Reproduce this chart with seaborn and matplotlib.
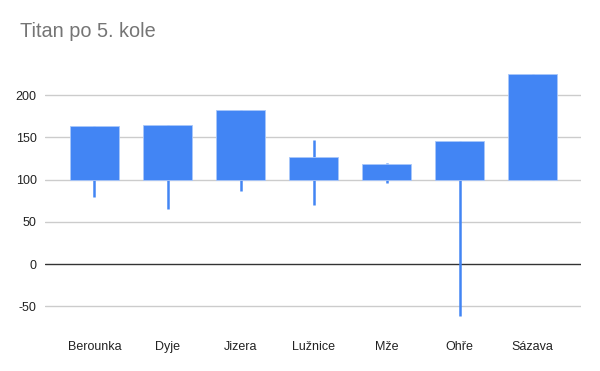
import numpy as np
import pandas as pd
import matplotlib
matplotlib.use("Agg")
import matplotlib.pyplot as plt
import seaborn as sns

categories = ["Berounka", "Dyje", "Jizera", "Lužnice", "Mže", "Ohře", "Sázava"]
open_vals = [100, 100, 100, 100, 100, 100, 100]
close_vals = [163, 164, 182, 127, 118, 146, 225]
low_vals = [79, 65, 86, 70, 96, -62, 100]
high_vals = [163, 164, 182, 147, 120, 146, 225]
y_ticks = [-50, 0, 50, 100, 150, 200]

df = pd.DataFrame({
    "cat": categories,
    "open": open_vals,
    "close": close_vals,
    "low": low_vals,
    "high": high_vals,
})
df["body"] = df["close"] - df["open"]

sns.set_theme(style="white")
plt.rcParams["font.family"] = ["Liberation Sans", "DejaVu Sans"]

blue = "#4285F4"
fig = plt.figure(figsize=(6, 3.71), dpi=100)
ax = fig.add_axes([45 / 600, 1 - 327.4 / 371, (581 - 45) / 600, (327.4 - 61.2) / 371])

for t in y_ticks:
    ax.axhline(t, color="#333333" if t == 0 else "#cccccc", lw=1.0, zorder=0.5 if t != 0 else 1.5)

pos = np.arange(len(df))
ax.vlines(pos, df["low"], df["high"], color=blue, lw=1.8, zorder=2)
sns.barplot(data=df, x="cat", y="body", bottom=df["open"].values, color=blue,
            saturation=1, width=0.67, ax=ax, zorder=3,
            edgecolor="#a9c7fa", linewidth=0.6)

ax.set_xlim(-0.678, 6.664)
ax.set_ylim(-75, 240)
ax.set_yticks(y_ticks)
ax.set_yticklabels([str(t) for t in y_ticks])
ax.set_xlabel("")
ax.set_ylabel("")
for s in ax.spines.values():
    s.set_visible(False)
ax.tick_params(axis="x", length=0, pad=9.5, labelsize=9, labelcolor="#222222")
ax.tick_params(axis="y", length=0, pad=6, labelsize=9, labelcolor="#222222")
ax.grid(False)

fig.text(20.5 / 600, 1 - 37 / 371, "Titan po 5. kole", fontsize=14.3, color="#757575",
         ha="left", va="baseline")

fig.savefig("out.png", dpi=100)
